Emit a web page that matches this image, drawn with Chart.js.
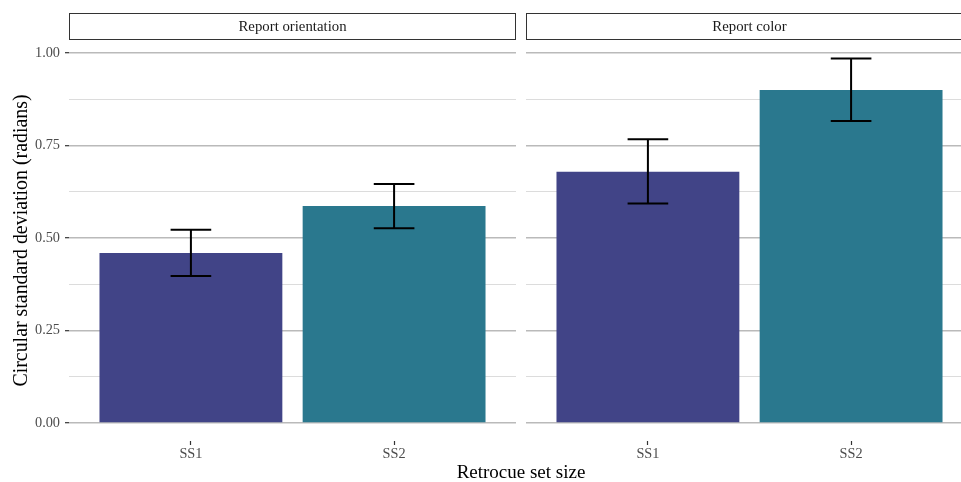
<!DOCTYPE html>
<html>
<head>
<meta charset="utf-8">
<script src="https://cdn.jsdelivr.net/npm/chart.js@4/dist/chart.umd.min.js"></script>
<style>
  html, body { margin: 0; padding: 0; background: #fff; overflow: hidden; width: 961px; height: 482px; }
  .panel { position: absolute; top: 0; height: 482px; }
  #p1 { left: 0; width: 516px; }
  #p2 { left: 526px; width: 447px; }
  #xtitle { position: absolute; left: 0; width: 1042px; top: 461px; text-align: center;
            font-family: "Liberation Serif", serif; font-size: 19px; line-height: 22px; color: #000; }
</style>
</head>
<body>
<div class="panel" id="p1"><canvas id="c1" width="516" height="482"></canvas></div>
<div class="panel" id="p2"><canvas id="c2" width="447" height="482"></canvas></div>
<div id="xtitle">Retrocue set size</div>
<script>
// Facets, set sizes and summary values (mean and error-bar limits)
const panels = ['Report orientation', 'Report color'];
const categories = ['SS1', 'SS2'];
const orientationMeans = [0.459, 0.586];
const orientationLower = [0.397, 0.526];
const orientationUpper = [0.522, 0.646];
const colorMeans = [0.679, 0.900];
const colorLower = [0.593, 0.816];
const colorUpper = [0.767, 0.985];
const yMajorTicks = [0.00, 0.25, 0.50, 0.75, 1.00];
const yMinorTicks = [0.125, 0.375, 0.625, 0.875];
const barColors = ['#414487', '#2A788E'];

const SERIF = '"Liberation Serif", "Times New Roman", serif';

// Strip label box above each panel
const stripPlugin = {
  id: 'strip',
  afterDraw(chart, args, opts) {
    const { ctx, chartArea } = chart;
    ctx.save();
    ctx.fillStyle = '#fff';
    ctx.strokeStyle = '#333';
    ctx.lineWidth = 1;
    ctx.fillRect(chartArea.left, 13, chartArea.right - chartArea.left, 27);
    ctx.strokeRect(chartArea.left + 0.5, 13.5, chartArea.right - chartArea.left - 1, 26);
    ctx.fillStyle = '#1a1a1a';
    ctx.font = '14.8px ' + SERIF;
    ctx.textAlign = 'center';
    ctx.textBaseline = 'middle';
    ctx.fillText(opts.text, (chartArea.left + chartArea.right) / 2, 27.5);
    ctx.restore();
  }
};

// Error bars with caps, drawn from the lower/upper arrays
const errorBarPlugin = {
  id: 'errorBars',
  afterDatasetsDraw(chart, args, opts) {
    const { ctx } = chart;
    const xs = chart.scales.x, ys = chart.scales.y;
    ctx.save();
    ctx.strokeStyle = '#000';
    ctx.lineWidth = 2;
    opts.lower.forEach((lo, i) => {
      const hi = opts.upper[i];
      const xc = xs.getPixelForValue(i + 1);
      const xl = xs.getPixelForValue(i + 1 - 0.1);
      const xr = xs.getPixelForValue(i + 1 + 0.1);
      const yl = ys.getPixelForValue(lo);
      const yh = ys.getPixelForValue(hi);
      ctx.beginPath();
      ctx.moveTo(xc, yl); ctx.lineTo(xc, yh);
      ctx.moveTo(xl, yh); ctx.lineTo(xr, yh);
      ctx.moveTo(xl, yl); ctx.lineTo(xr, yl);
      ctx.stroke();
    });
    ctx.restore();
  }
};

function makeChart(canvasId, title, means, lower, upper, showY) {
  const yAllTicks = yMajorTicks.concat(yMinorTicks).sort((a, b) => a - b);
  const isMajor = v => yMajorTicks.some(t => Math.abs(t - v) < 1e-9);
  return new Chart(document.getElementById(canvasId), {
    type: 'bar',
    data: {
      datasets: [{
        data: means.map((m, i) => ({ x: i + 1, y: m })),
        backgroundColor: barColors,
        borderWidth: 0,
        barPercentage: 0.9,
        categoryPercentage: 1.0
      }]
    },
    options: {
      responsive: false,
      animation: false,
      layout: { padding: { top: 40, left: 0, right: 0, bottom: 0 } },
      plugins: {
        legend: { display: false },
        tooltip: { enabled: false },
        strip: { text: title },
        errorBars: { lower: lower, upper: upper }
      },
      scales: {
        x: {
          type: 'linear',
          offset: false,
          min: 0.4,
          max: 2.6,
          afterBuildTicks: s => { s.ticks = categories.map((c, i) => ({ value: i + 1 })); },
          afterFit: s => { s.height = 41; },
          ticks: {
            callback: v => categories[Math.round(v) - 1] || '',
            font: { family: SERIF, size: 14.3 },
            color: '#4d4d4d',
            padding: 1,
            maxRotation: 0,
            autoSkip: false
          },
          grid: { offset: false, drawOnChartArea: false, drawTicks: true, tickLength: 4, tickColor: '#333', tickWidth: 1.2 },
          border: { display: false }
        },
        y: {
          type: 'linear',
          min: -0.049,
          max: 1.035,
          afterBuildTicks: s => { s.ticks = yAllTicks.map(v => ({ value: v })); },
          afterFit: s => { s.width = showY ? 69 : 0; },
          ticks: {
            display: showY,
            callback: v => isMajor(v) ? v.toFixed(2) : '',
            font: { family: SERIF, size: 14.3 },
            color: '#4d4d4d',
            padding: 5,
            autoSkip: false
          },
          grid: {
            drawTicks: showY,
            tickLength: 4,
            tickColor: c => isMajor(c.tick.value) ? '#333' : 'rgba(0,0,0,0)',
            tickWidth: 1.2,
            color: c => isMajor(c.tick.value) ? '#bababa' : '#dcdcdc',
            lineWidth: c => isMajor(c.tick.value) ? 1.4 : 1.1
          },
          border: { display: false },
          title: {
            display: showY,
            text: 'Circular standard deviation (radians)',
            font: { family: SERIF, size: 19.9 },
            color: '#000',
            padding: { top: 10, bottom: 0 }
          }
        }
      }
    },
    plugins: [stripPlugin, errorBarPlugin]
  });
}

makeChart('c1', panels[0], orientationMeans, orientationLower, orientationUpper, true);
makeChart('c2', panels[1], colorMeans, colorLower, colorUpper, false);
</script>
</body>
</html>
